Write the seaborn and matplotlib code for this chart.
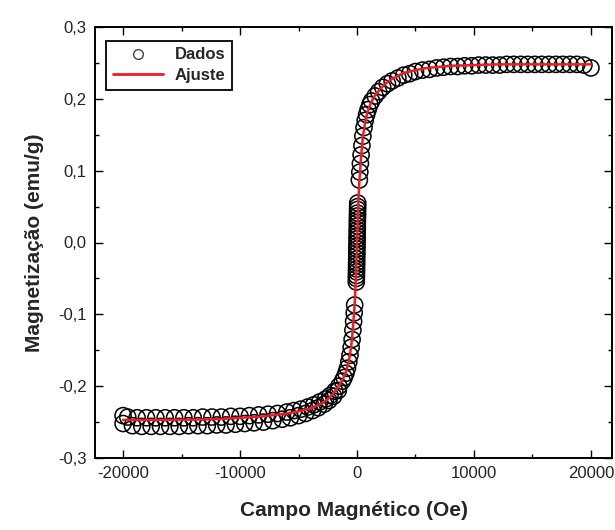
import matplotlib
matplotlib.use("Agg")
import matplotlib.pyplot as plt
from matplotlib.lines import Line2D
from matplotlib.ticker import MultipleLocator, FuncFormatter
import seaborn as sns
import pandas as pd

# ---- data ----
H_desc = [20000, 19400, 18800, 18200, 17600, 17000, 16400, 15800, 15200, 14600,
          14000, 13400, 12800, 12200, 11600, 11000, 10400, 9800, 9200, 8600,
          8000, 7400, 6800, 6200, 5600, 5000, 4500, 4000, 3500, 3000,
          2600, 2200, 1850, 1550, 1250, 1100, 950, 820, 700, 600, 500, 420,
          350, 290, 240, 200,
          60, 55, 50, 45, 40, 35, 30, 25, 20, 15, 10, 5, 0, -5, -10, -15, -20,
          -25, -30, -35, -40, -45, -50, -55, -60,
          -200, -240, -290, -350, -420, -500, -600, -700, -820, -950, -1100, -1250,
          -1550, -1900, -2300, -2700,
          -3200, -3700, -4200, -4800, -5400, -6000, -6800, -7600, -8400, -9200,
          -10000, -10800, -11600, -12400, -13200, -14000, -14800, -15600, -16400,
          -17200, -18000, -18800, -19600, -20000]
M_desc = [0.243, 0.247, 0.248, 0.248, 0.248, 0.248, 0.248, 0.248, 0.248, 0.248,
          0.248, 0.248, 0.248, 0.247, 0.247, 0.247, 0.247, 0.246, 0.246, 0.245,
          0.245, 0.244, 0.243, 0.241, 0.240, 0.238, 0.235, 0.233, 0.229, 0.225,
          0.221, 0.216, 0.210, 0.204, 0.197, 0.192, 0.185, 0.178, 0.170, 0.160, 0.148, 0.135,
          0.122, 0.110, 0.098, 0.087,
          0.055, 0.050, 0.046, 0.041, 0.037, 0.032, 0.028, 0.023, 0.018, 0.014, 0.009, 0.005, 0.0,
          -0.005, -0.009, -0.014, -0.018, -0.023, -0.028, -0.032, -0.037, -0.041, -0.046, -0.050, -0.055,
          -0.087, -0.098, -0.110, -0.122, -0.135, -0.146, -0.157, -0.166, -0.175, -0.182, -0.188, -0.193,
          -0.200, -0.207, -0.213, -0.218,
          -0.222, -0.226, -0.229, -0.232, -0.234, -0.236, -0.238, -0.239, -0.240, -0.241,
          -0.242, -0.242, -0.243, -0.243, -0.243, -0.244, -0.244, -0.244, -0.244,
          -0.244, -0.244, -0.244, -0.243, -0.241]

H_asc = [-20000, -19200, -18400, -17600, -16800, -16000, -15200, -14400, -13600,
         -12800, -12000, -11200, -10400, -9600, -8800, -8000, -7200, -6400, -5700,
         -5000, -4400, -3800, -3300, -2800, -2400, -2000, -1600]
M_asc = [-0.252, -0.255, -0.256, -0.256, -0.256, -0.256, -0.256, -0.255, -0.255,
         -0.255, -0.254, -0.254, -0.253, -0.252, -0.251, -0.250, -0.248, -0.246, -0.244,
         -0.241, -0.238, -0.234, -0.230, -0.225, -0.220, -0.214, -0.206]

H_fit = [-20000, -16000, -12000, -10000, -8000, -6000, -5000, -4000, -3000, -2500,
         -2000, -1500, -1200, -900, -700, -500, -350, -200, -100, 0, 100, 200, 350,
         500, 700, 900, 1200, 1500, 2000, 2500, 3000, 4000, 5000, 6000, 8000, 10000,
         12000, 16000, 20000]
M_fit = [-0.247, -0.247, -0.246, -0.244, -0.242, -0.238, -0.235, -0.231, -0.224, -0.218,
         -0.210, -0.198, -0.190, -0.178, -0.165, -0.145, -0.120, -0.085, -0.050, 0.0,
         0.050, 0.085, 0.120, 0.147, 0.168, 0.182, 0.195, 0.204, 0.214, 0.222, 0.228,
         0.236, 0.240, 0.243, 0.246, 0.247, 0.248, 0.248, 0.248]

x_ticks = [-20000, -10000, 0, 10000, 20000]
y_ticks = [-0.3, -0.2, -0.1, 0.0, 0.1, 0.2, 0.3]

sns.set_style("ticks")
plt.rcParams['font.family'] = ['Liberation Sans', 'DejaVu Sans']

fig = plt.figure(figsize=(6.15, 5.3), dpi=100)
ax = fig.add_axes([95 / 615, 72 / 530, (612 - 95) / 615, (458 - 27) / 530])

data = pd.DataFrame({"H": H_desc + H_asc, "M": M_desc + M_asc})
fit = pd.DataFrame({"H": H_fit, "M": M_fit})

sns.scatterplot(data=data, x="H", y="M", ax=ax, marker="o", s=135,
                facecolors="none", edgecolors="black", linewidth=1.1, zorder=2,
                legend=False)
sns.lineplot(data=fit, x="H", y="M", ax=ax, color="#ee1c24", linewidth=1.8,
             sort=False, estimator=None, zorder=3, legend=False)

ax.set_xlim(-22400, 21800)
ax.set_ylim(-0.3, 0.3)
ax.set_xticks(x_ticks)
ax.set_yticks(y_ticks)
ax.xaxis.set_minor_locator(MultipleLocator(5000))
ax.yaxis.set_minor_locator(MultipleLocator(0.05))
ax.yaxis.set_major_formatter(FuncFormatter(lambda v, p: f"{v:.1f}".replace(".", ",").replace("-0,0", "0,0")))
ax.xaxis.set_major_formatter(FuncFormatter(lambda v, p: f"{int(round(v))}"))

ax.tick_params(which="both", direction="in", top=True, right=True, colors="black",
               labelcolor="#222222", labelsize=12, width=1.0)
ax.tick_params(which="major", length=6, pad=6)
ax.tick_params(which="minor", length=3)
for s in ax.spines.values():
    s.set_linewidth(1.4)
    s.set_color("black")

ax.set_xlabel("Campo Magnético (Oe)", fontsize=15, fontweight="bold", labelpad=14)
ax.set_ylabel("Magnetização (emu/g)", fontsize=15, fontweight="bold", labelpad=10)

handles = [Line2D([], [], marker="o", linestyle="none", markerfacecolor="none",
                  markeredgecolor="#444444", markersize=7, markeredgewidth=1.0),
           Line2D([], [], color="#ee1c24", linewidth=2)]
leg = ax.legend(handles, ["Dados", "Ajuste"], loc="upper left",
                bbox_to_anchor=(0.022, 0.968), fancybox=False, framealpha=1,
                edgecolor="black", prop={"weight": "bold", "size": 12},
                handlelength=3.0, handletextpad=0.7, labelspacing=0.35,
                borderpad=0.4, borderaxespad=0.0)
leg.get_frame().set_linewidth(1.3)

fig.savefig("out.png", dpi=100)
